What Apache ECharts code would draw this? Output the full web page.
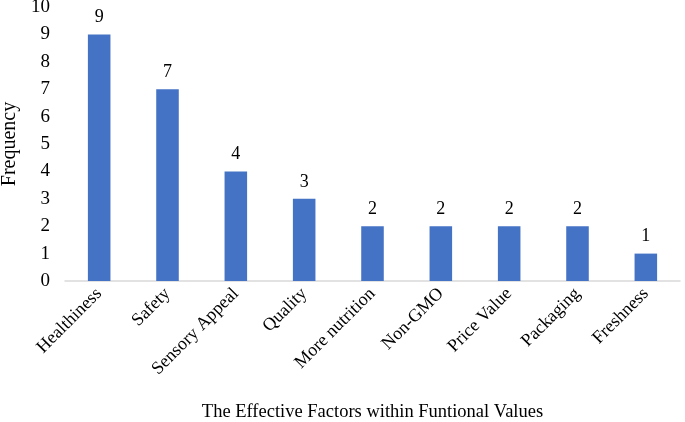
<!DOCTYPE html>
<html>
<head>
<meta charset="utf-8">
<script src="https://cdn.jsdelivr.net/npm/echarts@6/dist/echarts.min.js"></script>
<style>html,body{margin:0;padding:0;background:#fff}#c{width:685px;height:422px}</style>
</head>
<body>
<div id="c"></div>
<script>
const categories = ["Healthiness","Safety","Sensory Appeal","Quality","More nutrition","Non-GMO","Price Value","Packaging","Freshness"];
const frequency = [9,7,4,3,2,2,2,2,1];
const yTicks = [0,1,2,3,4,5,6,7,8,9,10];

const font = "'Liberation Serif', 'Times New Roman', serif";
const chart = echarts.init(document.getElementById('c'));
chart.setOption({
  animation: false,
  textStyle: { fontFamily: font },
  grid: { left: 65, right: 5, top: 7, bottom: 141, containLabel: false, outerBoundsMode: 'none' },
  xAxis: {
    type: 'category',
    data: categories,
    name: 'The Effective Factors within Funtional Values',
    nameLocation: 'middle',
    nameGap: 122,
    nameTextStyle: { fontFamily: font, fontSize: 18.5, color: '#000' },
    axisLine: { lineStyle: { color: '#d9d9d9', width: 1.5 } },
    axisTick: { show: false },
    axisLabel: { rotate: 45, fontFamily: font, fontSize: 18, color: '#000', interval: 0, margin: 10 }
  },
  yAxis: {
    type: 'value',
    min: 0, max: 10, interval: 1,
    name: 'Frequency',
    nameLocation: 'middle',
    nameGap: 45,
    nameTextStyle: { fontFamily: font, fontSize: 20, color: '#000' },
    axisLine: { show: false },
    axisTick: { show: false },
    splitLine: { show: false },
    axisLabel: { fontFamily: font, fontSize: 19, color: '#000', margin: 15,
      formatter: v => yTicks.includes(v) ? String(v) : '' }
  },
  series: [{
    type: 'bar',
    data: frequency,
    barWidth: '33%',
    itemStyle: { color: '#4472C4' },
    label: { show: true, position: 'top', distance: 8, fontFamily: font, fontSize: 18, color: '#000' }
  }]
});
</script>
</body>
</html>
